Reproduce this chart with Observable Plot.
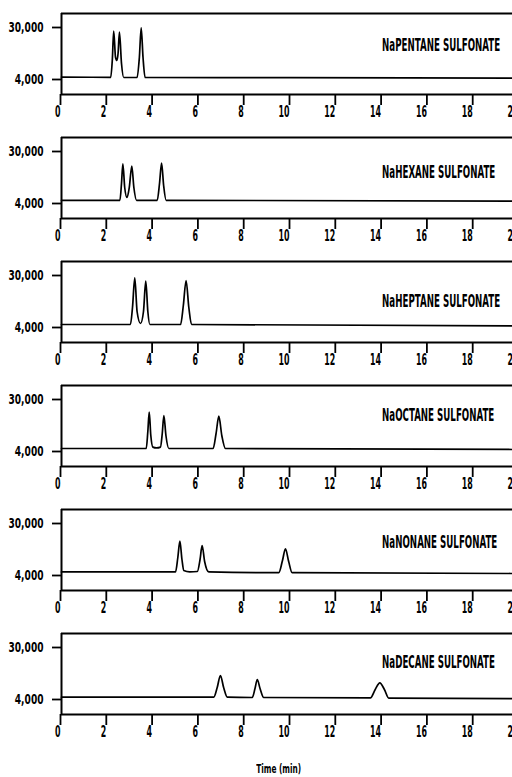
<!DOCTYPE html>
<html><head><meta charset="utf-8">
<script src="https://cdn.jsdelivr.net/npm/d3@7"></script>
<script src="https://cdn.jsdelivr.net/npm/@observablehq/plot@0.6"></script>
<style>
html,body{margin:0;padding:0;background:#fff;overflow:hidden;width:512px;height:777px;}
#chart{position:relative;width:540px;height:777px;}
#chart svg{display:block;}
#xtitle{position:absolute;left:0;top:759px;width:558px;text-align:center;}
#xtitle span{display:inline-block;font:bold 13px "DejaVu Sans",sans-serif;font-stretch:condensed;color:#000;transform-origin:50% 50%;white-space:nowrap;}
</style></head><body><div id="chart"></div>
<script>
// ---- data ----
const xTicks = [0, 2, 4, 6, 8, 10, 12, 14, 16, 18, 20];
const yTicks = [4000, 30000];
const xDomain = [0, 20];
const yDomain = [-3500, 37000];

const compounds = [
  "NaPENTANE SULFONATE",
  "NaHEXANE SULFONATE",
  "NaHEPTANE SULFONATE",
  "NaOCTANE SULFONATE",
  "NaNONANE SULFONATE",
  "NaDECANE SULFONATE"
];
const labelX = 14.0;
const labelY = [21000, 19500, 17000, 22000, 20500, 22500];

const pentaneT = [0, 2.15, 2.22, 2.28, 2.36, 2.42, 2.47, 2.53, 2.62, 2.72, 3.3, 3.4, 3.48, 3.56, 3.65, 10, 20];
const pentaneS = [5200, 5100, 14000, 28150, 15000, 13500, 17000, 27650, 12000, 5000, 5000, 15000, 29850, 15000, 5000, 4900, 4700];

const hexaneT = [0, 2.55, 2.62, 2.68, 2.76, 2.86, 2.96, 3.07, 3.16, 3.28, 4.18, 4.28, 4.37, 4.46, 4.57, 20];
const hexaneS = [5600, 5600, 14000, 23850, 12000, 7000, 12000, 22650, 12000, 5600, 5600, 14000, 24200, 13000, 5600, 5200];

const heptaneT = [0, 3.01, 3.1, 3.2, 3.3, 3.45, 3.58, 3.68, 3.77, 3.86, 5.2, 5.32, 5.44, 5.56, 5.68, 20];
const heptaneS = [5500, 5500, 14000, 28850, 12000, 6000, 12000, 27150, 12000, 5500, 5500, 15000, 27500, 14000, 5500, 4800];

const octaneT = [0, 3.7, 3.77, 3.83, 3.9, 3.99, 4.15, 4.32, 4.4, 4.47, 4.56, 4.69, 6.62, 6.75, 6.87, 7.0, 7.16, 20];
const octaneS = [5500, 5500, 14000, 23650, 12000, 6200, 5800, 6200, 13000, 22000, 12000, 5500, 5500, 13000, 21650, 12000, 5500, 5000];

const nonaneT = [0, 4.98, 5.08, 5.17, 5.26, 5.34, 5.6, 5.93, 6.05, 6.14, 6.25, 6.43, 9.49, 9.65, 9.78, 9.92, 10.07, 20];
const nonaneS = [5800, 5800, 13000, 21150, 12000, 6500, 5800, 6000, 12000, 19000, 11000, 5800, 5400, 11500, 17350, 11000, 5400, 5000];

const decaneT = [0, 6.65, 6.8, 6.94, 7.08, 7.24, 8.33, 8.45, 8.55, 8.67, 8.83, 13.49, 13.7, 13.9, 14.1, 14.29, 20];
const decaneS = [5150, 5150, 10000, 16000, 10000, 5150, 5000, 9500, 14000, 9500, 5000, 4800, 9000, 12350, 9000, 4700, 4400];

const times = [pentaneT, hexaneT, heptaneT, octaneT, nonaneT, decaneT];
const signals = [pentaneS, hexaneS, heptaneS, octaneS, nonaneS, decaneS];

// ---- drawing ----
const FONT = '"DejaVu Sans",sans-serif';
const chart = document.getElementById("chart");

times.forEach((ts, i) => {
  const data = ts.map((t, j) => ({t, s: signals[i][j]}));
  const svg = Plot.plot({
    width: 540, height: 124,
    marginTop: 13, marginBottom: 30, marginLeft: 61, marginRight: 21,
    style: {fontFamily: FONT, fontWeight: "bold", fontSize: "14px", fontStretch: "condensed", background: "white", color: "black", overflow: "visible"},
    x: {domain: xDomain},
    y: {domain: yDomain},
    marks: [
      Plot.ruleY([yDomain[1]], {strokeWidth: 2}),
      Plot.ruleY([yDomain[0]], {strokeWidth: 2}),
      Plot.ruleX([xDomain[0]], {strokeWidth: 2}),
      Plot.axisX({ticks: xTicks, tickSize: 11, tickPadding: 1, textAnchor: "end", dx: -1, fontSize: 15, label: null, strokeWidth: 1.8, tickFormat: d => String(d)}),
      Plot.axisY({ticks: yTicks, tickSize: 9, tickPadding: 9, tickFormat: d3.format(","), label: null, strokeWidth: 1.8}),
      Plot.line(data, {x: "t", y: "s", curve: "monotone-x", strokeWidth: 1.7, stroke: "black"}),
      Plot.text([{name: compounds[i], y: labelY[i]}], {x: () => labelX, y: "y", text: "name", textAnchor: "start", fontSize: 17, fontWeight: "bold", fill: "black"})
    ]
  });
  chart.appendChild(svg);
});

const title = document.createElement("div");
title.id = "xtitle";
const span = document.createElement("span");
span.textContent = "Time (min)";
title.appendChild(span);
chart.appendChild(title);

// condense the lettering like the original typeface
function squeeze(selector, refWidthFn) {
  const els = Array.from(document.querySelectorAll(selector));
  if (!els.length) return;
  const k = refWidthFn(els);
  els.forEach(t => {
    const w = t.getComputedTextLength() * k;
    t.setAttribute("textLength", w.toFixed(1));
    t.setAttribute("lengthAdjust", "spacingAndGlyphs");
  });
}
squeeze('g[aria-label="text"] text', els => 118 / els[0].getComputedTextLength());
squeeze('g[aria-label="y-axis tick label"] text', els => {
  const big = els.find(e => e.textContent.length >= 6) || els[0];
  return 35 / big.getComputedTextLength();
});
squeeze('g[aria-label="x-axis tick label"] text', els => {
  const ten = els.find(e => e.textContent === "10") || els[0];
  return 11 / ten.getComputedTextLength();
});
const sw = span.getBoundingClientRect().width;
if (sw > 0) span.style.transform = "scaleX(" + (45 / sw).toFixed(3) + ")";
</script>
</body></html>
